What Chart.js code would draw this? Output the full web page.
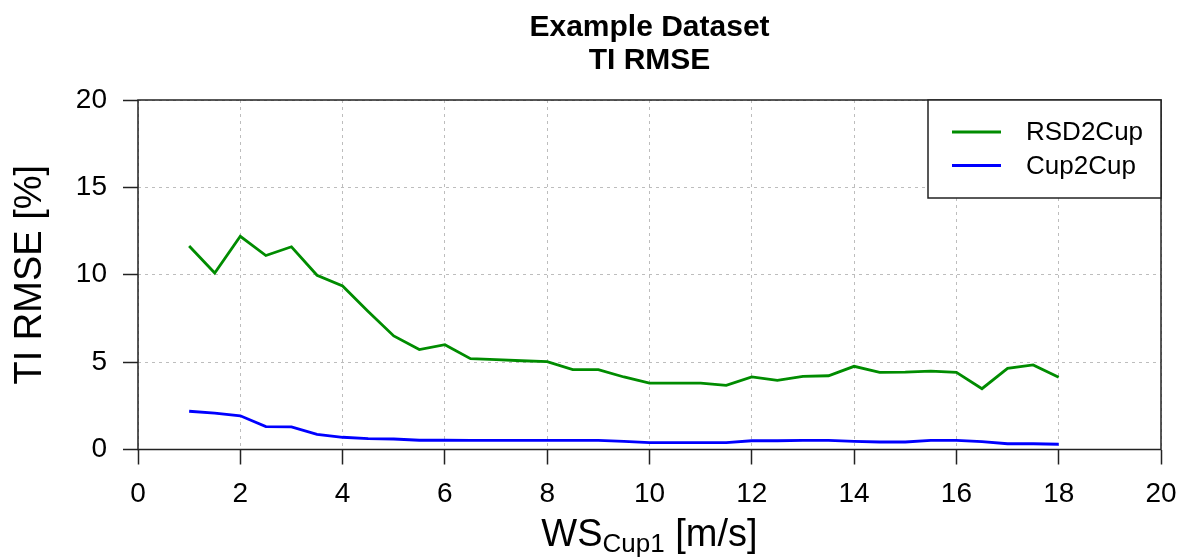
<!DOCTYPE html>
<html>
<head>
<meta charset="utf-8">
<script src="https://cdn.jsdelivr.net/npm/chart.js@4.4.1/dist/chart.umd.min.js"></script>
<style>
  html, body { margin:0; padding:0; background:#fff; }
  #wrap { width:1191px; height:559px; }
</style>
</head>
<body>
<div id="wrap"><canvas id="tiChart" width="1191" height="559"></canvas></div>
<script>
/* data */
const wsBins = [1, 1.5, 2, 2.5, 3, 3.5, 4, 4.5, 5, 5.5, 6, 6.5, 7, 7.5, 8, 8.5, 9, 9.5,
                10, 10.5, 11, 11.5, 12, 12.5, 13, 13.5, 14, 14.5, 15, 15.5, 16, 16.5, 17, 17.5, 18];
const rsd2cup = [11.65, 10.1, 12.2, 11.1, 11.6, 9.97, 9.36, 7.9, 6.5, 5.72, 6.0, 5.2, 5.14, 5.08, 5.03, 4.57, 4.57, 4.15,
                 3.8, 3.8, 3.8, 3.67, 4.15, 3.96, 4.18, 4.22, 4.76, 4.41, 4.43, 4.49, 4.41, 3.48, 4.64, 4.84, 4.13];
const cup2cup = [2.19, 2.08, 1.93, 1.31, 1.29, 0.87, 0.70, 0.62, 0.60, 0.53, 0.53, 0.52, 0.52, 0.52, 0.52, 0.52, 0.52, 0.47,
                 0.39, 0.39, 0.39, 0.39, 0.50, 0.50, 0.52, 0.52, 0.46, 0.43, 0.43, 0.52, 0.52, 0.45, 0.33, 0.33, 0.30];
const seriesNames = ['RSD2Cup', 'Cup2Cup'];
const titleLines = ['Example Dataset', 'TI RMSE'];
const yTitle = 'TI RMSE [%]';
const xTitleParts = ['WS', 'Cup1', ' [m/s]'];   // main, subscript, rest

const FONT = "'Liberation Sans', Arial, Helvetica, sans-serif";
const toPts = vals => wsBins.map((x, i) => ({ x, y: vals[i] }));

/* white page */
const bgPlugin = {
  id: 'bg',
  beforeDraw(chart){
    const c = chart.ctx;
    c.save(); c.fillStyle = '#fff'; c.fillRect(0, 0, chart.width, chart.height); c.restore();
  }
};

/* plot frame + legend box + x title with subscript */
const framePlugin = {
  id: 'frame',
  afterDraw(chart){
    const c = chart.ctx, a = chart.chartArea;
    c.save();
    c.setLineDash([]);
    c.strokeStyle = '#222'; c.lineWidth = 1.5;
    c.strokeRect(a.left, a.top, a.right - a.left, a.bottom - a.top);

    // legend, top right inside plot
    const w = 233, h = 98, x0 = a.right - w, y0 = a.top;
    c.fillStyle = '#fff'; c.fillRect(x0, y0, w, h);
    c.strokeRect(x0, y0, w, h);
    c.font = `26px ${FONT}`; c.textBaseline = 'middle'; c.textAlign = 'left';
    chart.data.datasets.forEach((ds, i) => {
      const y = y0 + 32 + i * 33.5;
      c.strokeStyle = ds.borderColor; c.lineWidth = 3;
      c.beginPath(); c.moveTo(x0 + 24, y); c.lineTo(x0 + 73, y); c.stroke();
      c.fillStyle = '#000'; c.fillText(ds.label, x0 + 98, y + 1);
    });

    // x axis title: WS_Cup1 [m/s]
    const [main, sub, rest] = xTitleParts;
    const mainF = `38px ${FONT}`, subF = `26px ${FONT}`;
    c.font = mainF; const w1 = c.measureText(main).width, w3 = c.measureText(rest).width;
    c.font = subF;  const w2 = c.measureText(sub).width;
    let x = (a.left + a.right) / 2 - (w1 + w2 + w3) / 2;
    const base = 545.5;
    c.fillStyle = '#000'; c.textBaseline = 'alphabetic';
    c.font = mainF; c.fillText(main, x, base); x += w1;
    c.font = subF;  c.fillText(sub, x, base + 6.5); x += w2;
    c.font = mainF; c.fillText(rest, x, base);
    c.restore();
  }
};

const gridOpts = {
  color: '#bdbdbd', lineWidth: 1,
  tickColor: '#222', tickBorderDash: [], tickLength: 15, tickWidth: 1.5
};

const ctx = document.getElementById('tiChart').getContext('2d');
new Chart(ctx, {
  type: 'line',
  data: {
    datasets: [
      { label: seriesNames[0], data: toPts(rsd2cup), borderColor: '#008c00', borderWidth: 2.8,
        pointRadius: 0, tension: 0, fill: false },
      { label: seriesNames[1], data: toPts(cup2cup), borderColor: '#0000ff', borderWidth: 2.8,
        pointRadius: 0, tension: 0, fill: false }
    ]
  },
  options: {
    responsive: false,
    animation: false,
    layout: { padding: { left: 0, right: 30, top: 0, bottom: 0 } },
    plugins: {
      legend: { display: false },
      tooltip: { enabled: false },
      title: {
        display: true, fullSize: false,
        text: titleLines, color: '#000',
        font: { family: FONT, size: 30, weight: 'bold', lineHeight: 1.1 },
        padding: { top: 11, bottom: 23 }
      }
    },
    scales: {
      x: {
        type: 'linear', min: 0, max: 20,
        ticks: { stepSize: 2, color: '#000', padding: 13, font: { family: FONT, size: 28 } },
        grid: gridOpts,
        border: { display: false, dash: [3, 4] },
        afterFit(s){ s.height = 109.5; }
      },
      y: {
        min: 0, max: 20,
        ticks: { stepSize: 5, color: '#000', padding: 16, font: { family: FONT, size: 28 } },
        grid: gridOpts,
        border: { display: false, dash: [3, 4] },
        title: { display: true, text: yTitle, color: '#000', padding: { top: 8, bottom: 0 },
                 font: { family: FONT, size: 38 } },
        afterFit(s){ s.width = 138; }
      }
    }
  },
  plugins: [bgPlugin, framePlugin]
});
</script>
</body>
</html>
